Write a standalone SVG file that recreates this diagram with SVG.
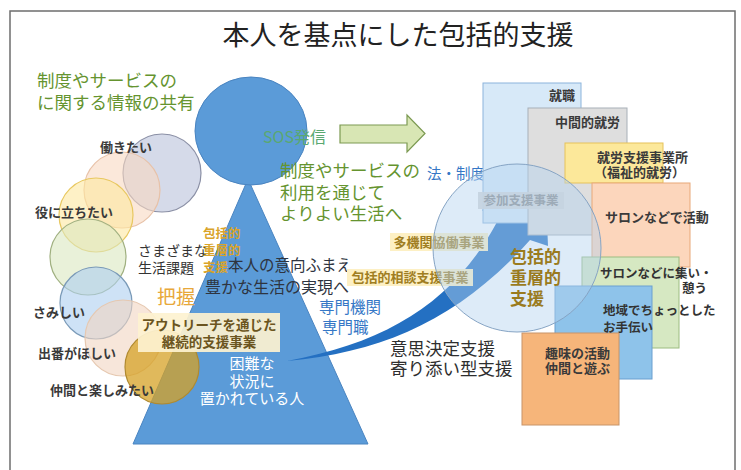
<svg xmlns="http://www.w3.org/2000/svg" width="741" height="470" viewBox="0 0 741 470">
<style>
text{font-family:"Noto Sans CJK JP","Noto Sans CJK SC",sans-serif;}
.lbl{font-size:13px;font-weight:bold;fill:#3a3a3a;}
.sm{font-size:12.5px;font-weight:bold;fill:#333;}
.grn{fill:#65942f;}
.blu{fill:#3577c6;}
.gold{fill:#d9a42a;font-weight:bold;}
.olive{fill:#9a7b1e;font-weight:bold;}
.lc{stroke-width:1.2;fill-opacity:0.6;}
.rb{stroke-width:1;}
</style>
<rect width="741" height="470" fill="#ffffff"/>
<rect x="10" y="11" width="725" height="470" fill="none" stroke="#6e6e6e" stroke-width="1.5"/>
<text x="398" y="45" font-size="27" text-anchor="middle" fill="#222">本人を基点にした包括的支援</text>

<g id="info">
<text x="37" y="87" font-size="17.5" class="grn">制度やサービスの</text>
<text x="37" y="109" font-size="17.5" class="grn">に関する情報の共有</text>
</g>

<g id="pyramid">
<polygon points="248,179 133,444 368,444" fill="#5b9bd8" stroke="#4a84c0" stroke-width="1"/>
<text x="252" y="368.5" font-size="15" fill="#fff" text-anchor="middle">困難な</text>
<text x="252" y="386.5" font-size="15" fill="#fff" text-anchor="middle">状況に</text>
<text x="252" y="403.5" font-size="15" fill="#fff" text-anchor="middle">置かれている人</text>
</g>

<g id="sos">
<ellipse cx="251" cy="131" rx="56" ry="54" fill="#5b9bd8" stroke="#4a84c0" stroke-width="1"/>
<text x="263" y="142.5" font-size="16" fill="#5aa870">SOS発信</text>
</g>

<g id="needs">
<circle cx="162" cy="173" r="39" fill="#b9c2da" stroke="#8a8fa5" class="lc"/>
<circle cx="122" cy="190" r="38" fill="#f9d8c2" stroke="#e8c2a8" class="lc"/>
<circle cx="96" cy="215" r="37" fill="#fde8a0" stroke="#e8c860" class="lc"/>
<circle cx="88" cy="257" r="38" fill="#dbe7bf" stroke="#a0b080" class="lc"/>
<circle cx="96" cy="303" r="36" fill="#aecff0" stroke="#7a9ab8" class="lc"/>
<circle cx="123" cy="338" r="38" fill="#f2d6c2" stroke="#e6c8b0" class="lc"/>
<circle cx="162" cy="367" r="37" fill="#d6a226" stroke="#b08a30" stroke-width="1.2" fill-opacity="0.75"/>
<text x="100" y="152" class="lbl">働きたい</text>
<text x="35" y="217" class="lbl">役に立ちたい</text>
<text x="33" y="317" class="lbl">さみしい</text>
<text x="38" y="358" class="lbl">出番がほしい</text>
<text x="50" y="395" class="lbl">仲間と楽しみたい</text>
<text x="138" y="256" font-size="14" fill="#333">さまざまな</text>
<text x="138" y="273" font-size="14" fill="#333">生活課題</text>
<text x="157" y="304" font-size="19" fill="#e8a83a">把握</text>
</g>

<g id="small-label">
<text x="203" y="237.5" font-size="12.5" class="gold">包括的</text>
<text x="203" y="254.5" font-size="12.5" class="gold">重層的</text>
<text x="203" y="271.5" font-size="12.5" class="gold">支援</text>
<text x="228" y="270.5" font-size="15.5" fill="#2e3440">本人の意向ふまえ</text>
<text x="205" y="293" font-size="16" fill="#2e3440">豊かな生活の実現へ</text>
</g>

<g id="outreach">
<rect x="138" y="313" width="142" height="39" fill="#fdf2d0" fill-opacity="0.92"/>
<text x="209" y="330" font-size="13.5" fill="#6b5520" font-weight="bold" text-anchor="middle">アウトリーチを通じた</text>
<text x="209" y="347" font-size="13.5" fill="#6b5520" font-weight="bold" text-anchor="middle">継続的支援事業</text>
</g>

<g id="specialist">
<text x="319" y="313" font-size="15.5" class="blu">専門機関</text>
<text x="322" y="333" font-size="15.5" class="blu">専門職</text>
</g>

<g id="connectors">
<polygon points="340,125 407,125 407,115 425,133.5 407,152 407,143 340,143" fill="#d8e6b4" stroke="#7c9a52" stroke-width="1.2"/>
<path d="M287 361 C385 352 460 318 530 240 L548 246 L545 172 L482 210 L497 222 C455 300 390 342 287 361 Z" fill="#2470c2"/>
</g>

<g id="use-text">
<text x="280" y="176.5" font-size="17.5" class="grn">制度やサービスの</text>
<text x="280" y="198.5" font-size="17.5" class="grn">利用を通じて</text>
<text x="280" y="219.5" font-size="17.5" class="grn">よりよい生活へ</text>
<text x="427" y="178.5" font-size="14.5" class="blu">法・制度</text>
</g>

<g id="participation">
<rect x="483" y="83" width="98" height="140" fill="#d7e9f8" stroke="#8cb4dc" class="rb"/>
<text x="562" y="100" class="lbl" text-anchor="middle">就職</text>
<rect x="528" y="108" width="99" height="127" fill="#dedede" stroke="#a8b0b8" class="rb"/>
<text x="555" y="127" class="lbl">中間的就労</text>
<rect x="565" y="143" width="98" height="40" fill="#fce89a" stroke="#e6c25a" class="rb"/>
<rect x="592" y="183" width="98" height="84" fill="#fcd6bc" stroke="#e8a878" class="rb"/>
<text x="597" y="162" class="lbl">就労支援事業所</text>
<text x="594" y="177" class="lbl">（福祉的就労）</text>
<text x="605" y="221.5" class="lbl">サロンなどで活動</text>
<rect x="582" y="257" width="97" height="91" fill="#d6e8c2" stroke="#9cbc80" class="rb"/>
<rect x="555" y="286" width="97" height="93" fill="#8ec3ea" stroke="#6a9fd0" class="rb"/>
<rect x="522" y="333" width="97" height="92" fill="#f6b57a" stroke="#c89468" class="rb"/>
<text x="600" y="277.5" class="sm">サロンなどに集い・</text>
<text x="707" y="292.5" class="sm" text-anchor="end">憩う</text>
<text x="603" y="314.5" class="sm">地域でちょっとした</text>
<text x="603" y="331.5" class="sm">お手伝い</text>
<text x="545" y="357.5" class="lbl" fill="#3a2a1a">趣味の活動</text>
<text x="545" y="372.5" class="lbl" fill="#3a2a1a">仲間と遊ぶ</text>
</g>

<g id="programs">
<rect x="390" y="233" width="98" height="18" fill="#fdf0c4"/>
<text x="439" y="246.5" font-size="13" fill="#a07e22" font-weight="bold" text-anchor="middle">多機関協働事業</text>
<rect x="347" y="269" width="126" height="17" fill="#fdf0c4"/>
<text x="410" y="282" font-size="13" fill="#a07e22" font-weight="bold" text-anchor="middle">包括的相談支援事業</text>
<rect x="478" y="192" width="86" height="17" fill="#d4d4d4" fill-opacity="0.9"/>
<text x="521" y="205" font-size="12.5" fill="#8a8a8a" font-weight="bold" text-anchor="middle">参加支援事業</text>
</g>

<g id="holistic">
<circle cx="517" cy="248" r="84" fill="#b3d2f0" fill-opacity="0.45" stroke="#86a4c4" stroke-width="1"/>
<text x="510" y="262.5" font-size="17" class="olive">包括的</text>
<text x="510" y="283.5" font-size="17" class="olive">重層的</text>
<text x="510" y="304.5" font-size="17" class="olive">支援</text>
</g>

<g id="decision">
<text x="390" y="355" font-size="17.5" fill="#2e2e2e">意思決定支援</text>
<text x="390" y="375" font-size="17.5" fill="#2e2e2e">寄り添い型支援</text>
</g>
</svg>
